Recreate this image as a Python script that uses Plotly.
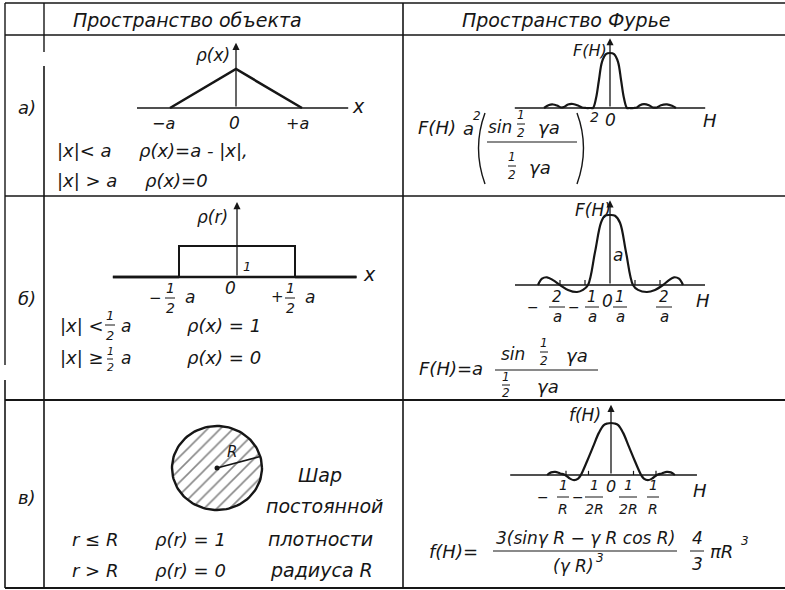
import numpy as np
import plotly.graph_objects as go

W, H = 785, 590
FONT = "DejaVu Sans"
INK = "#161616"

# ---------------- data ----------------
# а) triangular density, x in units of a, rho in units of a
tri_x = [-1.0, 0.0, 1.0]
tri_rho = [0.0, 1.0, 0.0]

# б) box density, x in units of a
box_x = [-0.5, -0.5, 0.5, 0.5]
box_rho = [0.0, 1.0, 1.0, 0.0]
box_zero_left = [-1.07, -0.5]
box_zero_right = [0.5, 1.03]

# в) sphere of radius R
sphere_R = 1.0
radius_angle_deg = 16.0

# Fourier transforms (curves sketched as in the textbook drawing)
fa_H = [-3.88, -3.59, -3.35, -3.12, -2.88, -2.71, -2.47, -2.18, -1.88, -1.65,
        -1.41, -1.12, -1.0, -0.82, -0.65, -0.47, -0.24, 0.0, 0.24, 0.47,
        0.65, 0.82, 1.0, 1.12, 1.41, 1.59, 1.76, 2.0, 2.29, 2.53,
        2.76, 3.0, 3.35, 3.65, 3.88]
fa_F = [0, 0.055, 0.064, 0.045, 0.01, 0.018, 0.064, 0.073, 0.045, 0.01,
        0, 0, 0, 0.18, 0.51, 0.84, 0.98, 1.0, 0.98, 0.84,
        0.51, 0.18, 0, 0, 0, 0.01, 0.05, 0.07, 0.05, 0.01,
        0.01, 0.05, 0.065, 0.04, 0]

fb_H = [-2.88, -2.72, -2.52, -2.28, -2.0, -1.68, -1.32, -1.08, -0.88, -0.6,
        -0.36, -0.2, 0.0, 0.2, 0.4, 0.64, 0.92, 1.12, 1.48, 1.8,
        2.12, 2.36, 2.56, 2.76, 2.92]
fb_F = [0, 0.09, 0.11, 0.07, 0, -0.07, -0.10, -0.07, 0, 0.47,
        0.89, 0.99, 1.0, 0.99, 0.89, 0.47, 0, -0.07, -0.10, -0.07,
        0, 0.07, 0.11, 0.09, 0]
fb_ticks = [-2, -1, 1, 2]

fc_H = [-1.42, -1.33, -1.24, -1.13, -1.02, -0.91, -0.82, -0.73, -0.67, -0.53,
        -0.4, -0.27, -0.16, -0.08, 0.0, 0.08, 0.16, 0.27, 0.4, 0.53,
        0.67, 0.73, 0.82, 0.91, 1.02, 1.13, 1.24, 1.33, 1.42]
fc_f = [0, 0.05, 0.06, 0.03, 0, -0.07, -0.10, -0.07, 0, 0.27,
        0.54, 0.81, 0.96, 0.99, 1.0, 0.99, 0.96, 0.81, 0.54, 0.27,
        0, -0.07, -0.10, -0.07, 0, 0.03, 0.06, 0.05, 0]
fc_ticks = [-1.0, -0.5, 0.5, 1.0]

# ---------------- panel placement ----------------
# origin (px), px per unit along x and y, extent of the horizontal axis, arrow top
panels = {
    "tri": dict(cx=236, cy=108, sx=66, sy=39, ax=(-1.5, 1.7), top=1.67),
    "box": dict(cx=237, cy=277, sx=116, sy=31, ax=(-1.07, 1.03), top=2.42),
    "sph": dict(cx=217, cy=468, sx=45, sy=42, ax=None, top=None),
    "fa": dict(cx=610, cy=108, sx=17, sy=55, ax=(-5.6, 5.6), top=1.27),
    "fb": dict(cx=610, cy=285, sx=25, sy=70, ax=(-3.8, 3.8), top=1.21),
    "fc": dict(cx=611, cy=475, sx=45, sy=52, ax=(-2.24, 1.91), top=1.35),
}

fig = go.Figure()
layout = dict(
    width=W, height=H, margin=dict(l=0, r=0, t=0, b=0),
    paper_bgcolor="white", plot_bgcolor="white", showlegend=False,
    xaxis=dict(range=[0, W], visible=False, domain=[0, 1], fixedrange=True),
    yaxis=dict(range=[H, 0], visible=False, domain=[0, 1], fixedrange=True),
)
axref = {}
for i, (name, p) in enumerate(panels.items(), start=2):
    xr = [-p["cx"] / p["sx"], (W - p["cx"]) / p["sx"]]
    yr = [-(H - p["cy"]) / p["sy"], p["cy"] / p["sy"]]
    layout[f"xaxis{i}"] = dict(range=xr, visible=False, overlaying="x", domain=[0, 1], fixedrange=True)
    layout[f"yaxis{i}"] = dict(range=yr, visible=False, overlaying="y", domain=[0, 1], fixedrange=True)
    axref[name] = (f"x{i}", f"y{i}")

annotations = []
shapes = []


def curve(panel, xs, ys, width=2.2, shape="linear"):
    xa, ya = axref[panel]
    fig.add_trace(go.Scatter(x=xs, y=ys, mode="lines", xaxis=xa, yaxis=ya,
                             line=dict(color=INK, width=width, shape=shape, smoothing=1.0),
                             hoverinfo="skip"))


def axes(panel, width=1.3):
    p = panels[panel]
    xa, ya = axref[panel]
    curve(panel, list(p["ax"]), [0, 0], width=width)
    annotations.append(dict(x=0, y=p["top"], ax=0, ay=0, xref=xa, yref=ya, axref=xa, ayref=ya,
                            text="", showarrow=True, arrowhead=2, arrowsize=1.1,
                            arrowwidth=1.3, arrowcolor=INK))


def ticks(panel, values, h):
    xs, ys = [], []
    for v in values:
        xs += [v, v, None]
        ys += [0, h, None]
    curve(panel, xs, ys, width=1.2)


def txt(x, y, s, size=18, anchor="center"):
    annotations.append(dict(x=x, y=y, xref="x", yref="y", text=s, showarrow=False,
                            xanchor=anchor, yanchor="middle",
                            font=dict(family=FONT, size=size, color=INK, style="italic")))


def hline(x0, x1, y, width=1.3):
    shapes.append(dict(type="line", xref="x", yref="y", x0=x0, x1=x1, y0=y, y1=y,
                       line=dict(color=INK, width=width)))


def vline(x, y0, y1, width=1.3):
    shapes.append(dict(type="line", xref="x", yref="y", x0=x, x1=x, y0=y0, y1=y1,
                       line=dict(color=INK, width=width)))


def frac(x, yb, num, den, size=13, half=5, gap=10):
    txt(x, yb - gap, num, size)
    txt(x, yb + gap, den, size)
    hline(x - half, x + half, yb, width=1)


# ---------------- table grid ----------------
hline(5, W, 3, 1.4)
hline(5, W, 35, 1.4)
hline(5, W, 196, 1.5)
hline(5, W, 400, 1.8)
hline(5, W, 588, 1.8)
vline(5, 3, 365, 1.4)
vline(5, 380, 588, 1.6)
vline(44, 3, 52, 1.4)
vline(44, 66, 588, 1.6)
vline(403, 3, 588, 1.6)

# ---------------- object space ----------------
axes("tri")
curve("tri", tri_x, tri_rho, width=2.6)

axes("box", width=2.4)
curve("box", box_x, box_rho, width=2.0)
curve("box", box_zero_left, [0, 0], width=2.6)
curve("box", box_zero_right, [0, 0], width=2.6)

xa, ya = axref["sph"]
t = np.linspace(0, 2 * np.pi, 121)
fig.add_trace(go.Scatter(x=sphere_R * np.cos(t), y=sphere_R * np.sin(t), mode="lines",
                         xaxis=xa, yaxis=ya, fill="toself", fillcolor="white",
                         fillpattern=dict(shape="/", size=9, solidity=0.18,
                                          fgcolor="#111111", bgcolor="white"),
                         line=dict(color=INK, width=2.4), hoverinfo="skip"))
ang = np.deg2rad(radius_angle_deg)
fig.add_trace(go.Scatter(x=[0, sphere_R * np.cos(ang)], y=[0, sphere_R * np.sin(ang)],
                         mode="lines", xaxis=xa, yaxis=ya,
                         line=dict(color=INK, width=1.6), hoverinfo="skip"))
fig.add_trace(go.Scatter(x=[0], y=[0], mode="markers", xaxis=xa, yaxis=ya,
                         marker=dict(color=INK, size=5), hoverinfo="skip"))

# ---------------- Fourier space ----------------
axes("fa")
curve("fa", fa_H, fa_F, width=2.2, shape="spline")
axes("fb")
ticks("fb", fb_ticks, 0.07)
curve("fb", fb_H, fb_F, width=2.2, shape="spline")
axes("fc")
ticks("fc", fc_ticks, 0.08)
curve("fc", fc_H, fc_f, width=2.2, shape="spline")

# ---------------- text ----------------
txt(187, 20, "Пространство объекта", 19)
txt(566, 20, "Пространство Фурье", 19)
txt(27, 107, "а)", 18)
txt(27, 298, "б)", 18)
txt(27, 497, "в)", 18)

# row а, object
txt(213, 55, "ρ(x)", 17)
txt(358, 106, "x", 19)
txt(163, 123, "−a", 16)
txt(234, 123, "0", 17)
txt(297, 123, "+a", 16)
txt(55, 150, "|x|< a", 18, "left")
txt(137, 150, "ρ(x)=a - |x|,", 18, "left")
txt(55, 180, "|x| > a", 18, "left")
txt(143, 180, "ρ(x)=0", 18, "left")

# row б, object
txt(212, 217, "ρ(r)", 17)
txt(369, 274, "x", 19)
txt(247, 266, "1", 13)
txt(155, 298, "−", 15)
frac(170, 298, "1", "2", 14)
txt(190, 297, "a", 17)
txt(230, 288, "0", 17)
txt(277, 297, "+", 15)
frac(290, 298, "1", "2", 14)
txt(310, 297, "a", 17)
txt(58, 325, "|x| <", 18, "left")
frac(110, 325, "1", "2", 13)
txt(126, 326, "a", 17)
txt(185, 325, "ρ(x) = 1", 18, "left")
txt(58, 357, "|x| ≥", 18, "left")
frac(110, 359, "1", "2", 11, half=3, gap=8)
txt(126, 358, "a", 17)
txt(185, 357, "ρ(x) = 0", 18, "left")

# row в, object
txt(232, 452, "R", 15)
txt(320, 475, "Шар", 19)
txt(324, 506, "постоянной", 19)
txt(320, 539, "плотности", 19)
txt(321, 570, "радиуса R", 19)
txt(70, 539, "r ≤ R", 18, "left")
txt(153, 539, "ρ(r) = 1", 18, "left")
txt(70, 570, "r > R", 18, "left")
txt(153, 570, "ρ(r) = 0", 18, "left")

# row а, Fourier
txt(590, 50, "F(H)", 16)
txt(610, 120, "0", 17)
txt(710, 120, "H", 18)
txt(437, 127, "F(H)", 18)
txt(468, 128, "a", 18)
txt(477, 116, "2", 12)
shapes.append(dict(type="path", xref="x", yref="y", path="M 485,113 Q 472,148 485,184",
                   line=dict(color=INK, width=1.4)))
shapes.append(dict(type="path", xref="x", yref="y", path="M 577,113 Q 590,148 577,184",
                   line=dict(color=INK, width=1.4)))
txt(500, 127, "sin", 17)
frac(521, 124, "1", "2", 12, half=4, gap=9)
txt(549, 127, "γa", 18)
hline(487, 577, 142, 1.2)
frac(512, 166, "1", "2", 12, half=4, gap=9)
txt(540, 167, "γa", 18)
txt(594, 117, "2", 14)

# row б, Fourier
txt(593, 210, "F(H)", 17)
txt(618, 255, "a", 17)
txt(703, 300, "H", 18)
txt(533, 307, "−", 14)
frac(557, 307, "2", "a", 15, half=8)
txt(574, 307, "−", 14)
frac(592, 307, "1", "a", 15, half=7)
txt(607, 301, "0", 17)
frac(620, 307, "1", "a", 15, half=7)
frac(664, 307, "2", "a", 15, half=8)
txt(417, 368, "F(H)=a", 18, "left")
txt(513, 354, "sin", 17)
frac(544, 352, "1", "2", 12, half=4, gap=9)
txt(577, 355, "γa", 18)
hline(495, 598, 370, 1.2)
frac(506, 385, "1", "2", 12, half=4, gap=8)
txt(548, 386, "γa", 18)

# row в, Fourier
txt(585, 415, "f(H)", 17)
txt(700, 490, "H", 18)
txt(543, 497, "−", 14)
frac(563, 497, "1", "R", 14, half=6, gap=12)
txt(578, 497, "−", 14)
frac(594, 497, "1", "2R", 14, half=9, gap=12)
txt(611, 486, "0", 16)
frac(628, 497, "1", "2R", 14, half=9, gap=12)
frac(653, 497, "1", "R", 14, half=6, gap=12)
txt(427, 551, "f(H)=", 18, "left")
txt(585, 538, "3(sinγ R − γ R cos R)", 17)
hline(493, 677, 551, 1.2)
txt(573, 566, "(γ R)", 17)
txt(600, 558, "3", 12)
frac(697, 551, "4", "3", 17, half=7, gap=13)
txt(708, 551, "πR", 18, "left")
txt(745, 541, "3", 12)

layout["annotations"] = annotations
layout["shapes"] = shapes
fig.update_layout(**layout)
fig.write_html("out.html")
